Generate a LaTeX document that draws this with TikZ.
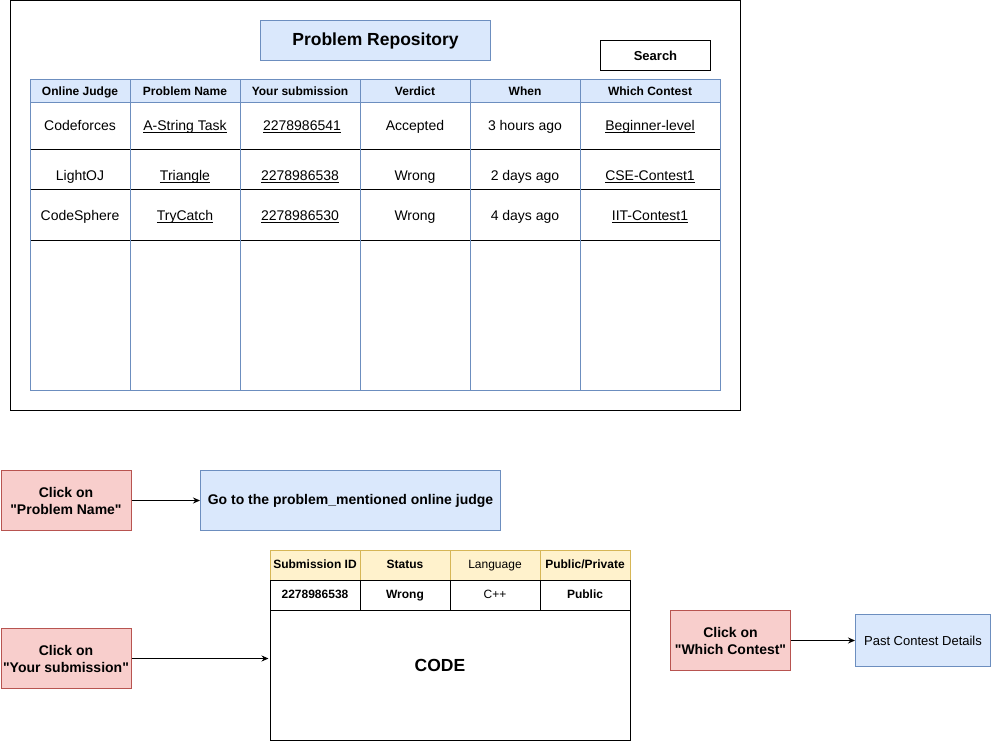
\documentclass[tikz,border=0pt]{standalone}
\usepackage{fontspec}
\setmainfont{Liberation Sans}[Ligatures=TeXOff]
\usetikzlibrary{arrows.meta}
\definecolor{blueFill}{HTML}{DAE8FC}
\definecolor{blueLine}{HTML}{6C8EBF}
\definecolor{redFill}{HTML}{F8CECC}
\definecolor{redLine}{HTML}{B85450}
\definecolor{yellowFill}{HTML}{FFF2CC}
\definecolor{yellowLine}{HTML}{D6B656}
\newcommand\lnk[1]{\setbox0\hbox{#1}\rlap{\rule[-2pt]{\wd0}{0.8pt}}\box0}

\begin{document}
\begin{tikzpicture}[x=1pt, y=-1pt, line width=1pt,
    headtext/.style={font=\fontsize{12}{14}\selectfont\bfseries, inner sep=0pt, text height=8.4pt, text depth=0pt},
    celltext/.style={font=\fontsize{14}{16}\selectfont, inner sep=0pt, text height=11pt, text depth=0pt},
    subtext/.style={font=\fontsize{12}{14}\selectfont\bfseries, inner sep=0pt, text height=9pt, text depth=1.6pt},
    clickbox/.style={draw=redLine, fill=redFill, align=center, inner sep=0pt, anchor=north west,
        font=\fontsize{14}{17}\selectfont\bfseries},
    infobox/.style={draw=blueLine, fill=blueFill, align=center, inner sep=0pt, anchor=north west},
    pointer/.style={-{Stealth[length=7pt,width=6pt]}, line width=1pt}]
\useasboundingbox (0,0) rectangle (991,741);

\node[draw, minimum width=730, minimum height=409.5, inner sep=0pt, anchor=north west] (frame) at (10,0.5) {};
\node[infobox, minimum width=230, minimum height=40, font=\fontsize{17.5}{20}\selectfont\bfseries] (title) at (260,20) {Problem Repository};
\node[draw, minimum width=110, minimum height=30, inner sep=0pt, anchor=north west,
    font=\fontsize{13}{15}\selectfont\bfseries] (search) at (600,40) {Search};

\fill[blueFill] (30,80) rectangle (720,103);
\foreach \y in {150,190,240}
    \draw (30,\y) -- (720,\y);
\foreach \x in {130,240,360,470,580}
    \draw[blueLine] (\x,80) -- (\x,390);
\draw[blueLine] (30,103) -- (720,103);
\draw[blueLine] (30,80) rectangle (720,390);

\foreach \cx/\txt [count=\i] in {80/Online Judge,185/Problem Name,300/Your submission,415/Verdict,525/When,650/Which Contest}
    \node[headtext] (head\i) at (\cx,91.5) {\txt};
\foreach \cx/\txt [count=\i] in {80/Codeforces,185/\lnk{A-String Task},302/\lnk{2278986541},415/Accepted,525/3 hours ago,650/\lnk{Beginner-level}}
    \node[celltext] (rowa\i) at (\cx,125) {\txt};
\foreach \cx/\txt [count=\i] in {80/LightOJ,185/\lnk{Triangle},300/\lnk{2278986538},415/Wrong,525/2 days ago,650/\lnk{CSE-Contest1}}
    \node[celltext] (rowb\i) at (\cx,175) {\txt};
\foreach \cx/\txt [count=\i] in {80/CodeSphere,185/\lnk{TryCatch},300/\lnk{2278986530},415/Wrong,525/4 days ago,650/\lnk{IIT-Contest1}}
    \node[celltext] (rowc\i) at (\cx,215) {\txt};

\node[clickbox, minimum width=130, minimum height=60] (pName) at (0.5,470) {Click on\\"Problem Name"};
\node[infobox, minimum width=300, minimum height=60, font=\fontsize{14}{17}\selectfont\bfseries] (goJudge) at (200,470) {Go to the problem\_mentioned online judge};
\draw[pointer] (pName) -- (goJudge);

\fill[yellowFill] (270,550) rectangle (630,580);
\foreach \x in {360,450,540}
    \draw[yellowLine] (\x,550) -- (\x,580);
\draw[yellowLine] (270,550) rectangle (630,580);
\foreach \x in {360,450,540}
    \draw (\x,580) -- (\x,610);
\draw (270,610) -- (630,610);
\draw (270,580) rectangle (630,740);
\node[minimum width=360, minimum height=130, inner sep=0pt, anchor=north west] (codeBox) at (270,610) {};
\node[font=\fontsize{17.5}{20}\selectfont\bfseries, inner sep=0pt] (codeText) at (440,665) {CODE};

\node[subtext] (subId) at (315,565) {Submission ID};
\node[subtext] (subStatus) at (405,565) {Status};
\node[subtext, font=\fontsize{12}{14}\selectfont] (subLang) at (495,565) {Language};
\node[subtext] (subPublic) at (585,565) {Public/Private};
\node[subtext] (valId) at (315,595) {2278986538};
\node[subtext] (valStatus) at (405,595) {Wrong};
\node[subtext, font=\fontsize{12}{14}\selectfont] (valLang) at (495,595) {C++};
\node[subtext] (valPublic) at (585,595) {Public};

\node[clickbox, minimum width=130, minimum height=60] (ySub) at (0.5,628) {Click on\\"Your submission"};
\draw[pointer, shorten >=1.5pt] (ySub.east) -- (ySub.east -| codeBox.west);

\node[clickbox, minimum width=120, minimum height=60] (wContest) at (670,610) {Click on\\"Which Contest"};
\node[infobox, minimum width=135, minimum height=52, font=\fontsize{13}{15}\selectfont] (pastContest) at (855,614) {Past Contest Details};
\draw[pointer] (wContest) -- (pastContest);
\end{tikzpicture}
\end{document}
